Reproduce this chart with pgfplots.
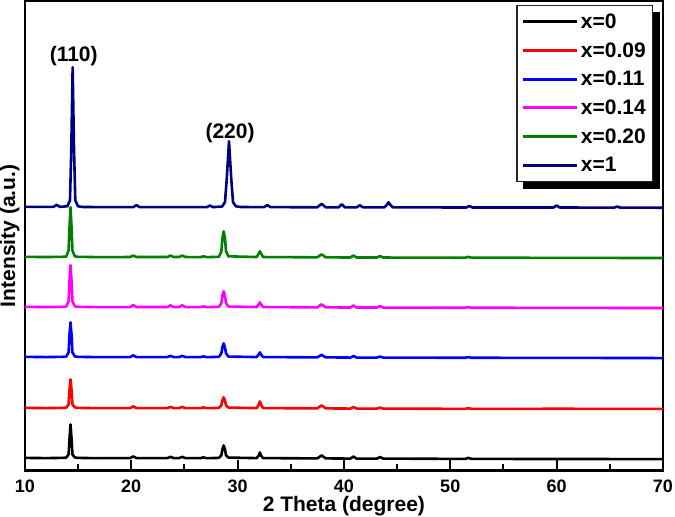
\documentclass[border=0pt]{standalone}
\usepackage{pgfplots}
\pgfplotsset{compat=1.18}
\usepackage{fontspec}
\setmainfont{Liberation Sans}
\usetikzlibrary{backgrounds}
\definecolor{xnavy}{RGB}{0,0,128}
\definecolor{xgreen}{RGB}{0,128,0}
\definecolor{xmag}{RGB}{255,0,255}
\definecolor{xred}{RGB}{255,0,0}
\definecolor{xblue}{RGB}{0,0,255}
\begin{document}
\begin{tikzpicture}
\begin{axis}[
  width=638pt, height=469pt, scale only axis,
  xmin=10, xmax=70, ymin=0, ymax=469,
  xtick={10,20,...,70}, minor xtick={15,25,...,65},
  xtick pos=bottom, ytick=\empty,
  tick align=inside, major tick length=10pt, minor tick length=6pt,
  every tick/.style={black, line width=2pt},
  axis line style={line width=2.5pt},
  /pgf/number format/assume math mode=true,
  xticklabel style={font=\fontsize{18}{21}\selectfont\bfseries, inner sep=2pt, yshift=-7pt},
  xlabel={2 Theta (degree)},
  ylabel={Intensity (a.u.)},
  label style={font=\fontsize{21}{24}\selectfont\bfseries},
  xlabel style={at={(axis description cs:0.5,0)}, anchor=north, yshift=-26pt, inner sep=0pt},
  ylabel style={at={(axis description cs:0,0.5)}, anchor=south, inner sep=0pt, yshift=5pt},
  legend style={name=leg, at={(axis description cs:0.985,0.9915)}, anchor=north east,
    draw=black!85, line width=1.2pt, fill=white,
    font=\fontsize{21}{25}\selectfont\bfseries,
    inner xsep=5pt, inner ysep=6pt, row sep=8.5pt},
  legend cell align=left,
  legend image code/.code={\draw[#1, line width=3pt] (0pt,0pt) -- (54pt,0pt);},
  every axis plot/.append style={line width=2.6pt, line join=round},
]
% x=0
\addplot[black] coordinates {
(10,12.5) (12,12.3) (13.5,12.5) (13.9,12.8) (14.12,16) (14.2,31) (14.3,46) (14.4,31) (14.48,16) (14.7,13) (15,12.5) (17,12.2) (19.9,12.3) (20.2,14) (20.5,12.3) (23.4,12.3) (23.7,13.5) (24,12.3) (24.5,12.3) (24.8,13.5) (25.1,12.3) (26.5,12.2) (26.8,13) (27.1,12.2) (28.25,12.5) (28.48,15) (28.58,21) (28.7,25) (28.82,21) (28.92,15) (29.15,12.8) (31.8,12.3) (32,15) (32.1,18) (32.2,15) (32.4,12.3) (37.5,12) (37.9,15) (38.3,12) (40.6,11.8) (40.9,13.8) (41.2,11.8) (43.1,11.8) (43.4,13.3) (43.7,11.8) (51.4,11.5) (51.7,12.5) (52,11.5) (60,11.4) (70,11.3)
};
\addlegendentry{x=0}
% x=0.09
\addplot[xred] coordinates {
(10,62.5) (12,62.3) (13.5,62.5) (13.9,62.8) (14.12,66) (14.2,80) (14.3,91) (14.4,80) (14.48,66) (14.7,63) (15,62.5) (17,62.2) (19.9,62.3) (20.2,64) (20.5,62.3) (23.4,62.3) (23.7,63.5) (24,62.3) (24.5,62.3) (24.8,63.5) (25.1,62.3) (26.5,62.2) (26.8,63) (27.1,62.2) (28.25,62.5) (28.48,65) (28.58,70) (28.7,73) (28.82,70) (28.92,65) (29.15,62.8) (31.8,62.3) (32,66) (32.1,69) (32.2,66) (32.4,62.3) (37.5,62) (37.9,65) (38.3,62) (40.6,61.8) (40.9,63.3) (41.2,61.8) (43.1,61.8) (43.4,62.8) (43.7,61.8) (51.4,61.5) (51.7,62.3) (52,61.5) (60,61.6) (70,61.5)
};
\addlegendentry{x=0.09}
% x=0.11
\addplot[xblue] coordinates {
(10,113.5) (12,113.3) (13.5,113.5) (13.9,113.8) (14.12,118) (14.2,135) (14.3,148) (14.4,135) (14.48,118) (14.7,114) (15,113.5) (17,113.2) (19.9,113.3) (20.2,115) (20.5,113.3) (23.4,113.3) (23.7,114.5) (24,113.3) (24.5,113.3) (24.8,114.5) (25.1,113.3) (26.5,113.2) (26.8,114) (27.1,113.2) (28.25,113.5) (28.48,117) (28.58,123) (28.7,127) (28.82,123) (28.92,117) (29.15,113.8) (31.8,113.3) (32,116) (32.1,118) (32.2,116) (32.4,113.3) (37.5,113) (37.9,115.5) (38.3,113) (40.6,112.8) (40.9,114.3) (41.2,112.8) (43.1,112.8) (43.4,113.8) (43.7,112.8) (51.4,112.6) (51.7,113.3) (52,112.6) (60,112.5) (70,112.3)
};
\addlegendentry{x=0.11}
% x=0.14
\addplot[xmag] coordinates {
(10,163.5) (12,163.3) (13.5,163.5) (13.9,163.8) (14.12,169) (14.2,189) (14.3,205) (14.4,189) (14.48,169) (14.7,164) (15,163.5) (17,163.2) (19.9,163.3) (20.2,165.3) (20.5,163.3) (23.4,163.3) (23.7,165) (24,163.3) (24.5,163.3) (24.8,165) (25.1,163.3) (26.5,163.2) (26.8,164) (27.1,163.2) (28.25,163.5) (28.48,167) (28.58,175) (28.7,179) (28.82,175) (28.92,167) (29.15,163.8) (31.8,163.3) (32,166) (32.1,168) (32.2,166) (32.4,163.3) (37.5,163) (37.9,166) (38.3,163) (40.6,162.8) (40.9,164.8) (41.2,162.8) (43.1,162.8) (43.4,164.3) (43.7,162.8) (51.4,162.6) (51.7,163.3) (52,162.6) (60,162.5) (70,162.3)
};
\addlegendentry{x=0.14}
% x=0.20
\addplot[xgreen] coordinates {
(10,213.5) (12,213.3) (13.5,213.5) (13.9,213.8) (14.12,220) (14.2,242) (14.3,263) (14.4,242) (14.48,220) (14.7,214) (15,213.5) (17,213.2) (19.9,213.3) (20.2,214.8) (20.5,213.3) (23.4,213.3) (23.7,214.8) (24,213.3) (24.5,213.3) (24.8,214.8) (25.1,213.3) (26.5,213.2) (26.8,214) (27.1,213.2) (28.25,213.5) (28.48,219) (28.58,232) (28.7,239) (28.82,232) (28.92,219) (29.15,214) (31.8,213.3) (32,217) (32.1,219) (32.2,217) (32.4,213.3) (37.5,213) (37.9,216) (38.3,213) (40.6,212.8) (40.9,214.8) (41.2,212.8) (43.1,212.8) (43.4,214.3) (43.7,212.8) (51.4,212.6) (51.7,213.5) (52,212.6) (60,212.5) (70,212.3)
};
\addlegendentry{x=0.20}
% x=1
\addplot[xnavy] coordinates {
(10,263.5) (12.7,263.5) (13,265.5) (13.3,263.5) (14.0,264) (14.25,270) (14.37,320) (14.5,403) (14.63,320) (14.75,270) (15.0,264) (15.5,263.3) (18,263.2) (20.2,263.2) (20.5,265.2) (20.8,263.2) (27.1,263.2) (27.4,264.7) (27.7,263.2) (28.55,263.8) (28.82,268) (28.98,290) (29.2,329) (29.42,290) (29.58,268) (29.85,264) (30.3,263.3) (32.5,263.2) (32.8,265.2) (33.1,263.2) (37.5,263) (37.9,266.5) (38.3,263) (39.5,263) (39.8,266) (40.1,263) (41.2,263) (41.5,265) (41.8,263) (43.8,263) (44.0,265) (44.2,268) (44.4,265) (44.6,263) (51.5,262.8) (51.8,264.3) (52.1,262.8) (59.7,262.8) (60,264.8) (60.3,262.8) (65.4,262.7) (65.7,263.7) (66,262.7) (70,262.6)
};
\addlegendentry{x=1}
\node[font=\fontsize{21}{24}\selectfont\bfseries] at (axis cs:14.6,414) {(110)};
\node[font=\fontsize{21}{24}\selectfont\bfseries] at (axis cs:29.3,337) {(220)};
\path ([xshift=-28pt,yshift=-49pt]rel axis cs:0,0) ([yshift=3pt]rel axis cs:1,1);
\end{axis}
\begin{scope}[on background layer]
\fill[black] ([shift={(7pt,-7pt)}]leg.south west) rectangle ([shift={(7pt,-7pt)}]leg.north east);
\end{scope}
\end{tikzpicture}
\end{document}
